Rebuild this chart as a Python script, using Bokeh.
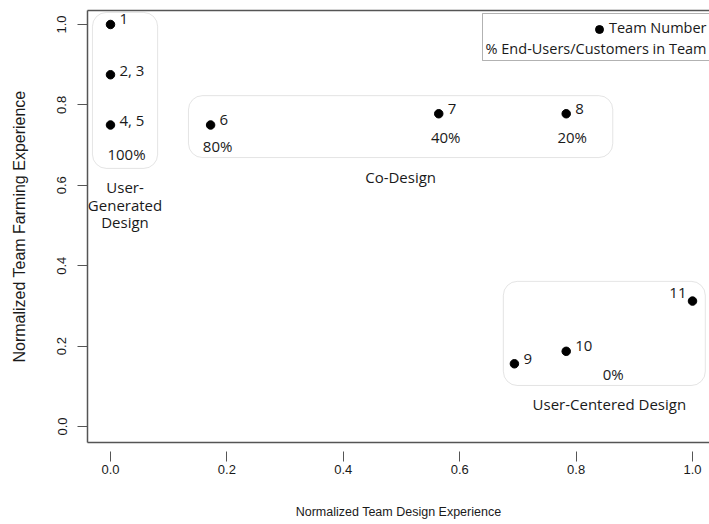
from bokeh.plotting import figure
from bokeh.models import Range1d, FixedTicker, BoxAnnotation, ColumnDataSource, LinearAxis
from bokeh.core.properties import value
from bokeh.embed import file_html
from bokeh.resources import INLINE

# ---------------- data ----------------
team_labels = ["1", "2, 3", "4, 5", "6", "7", "8", "9", "10", "11"]
design_exp = [0.0, 0.0, 0.0, 0.172, 0.564, 0.783, 0.694, 0.783, 1.0]
farming_exp = [1.0, 0.875, 0.75, 0.75, 0.778, 0.778, 0.156, 0.187, 0.312]

group_names = ["User-\nGenerated\nDesign", "Co-Design", "User-Centered Design"]
group_left = [-0.031, 0.134, 0.675]
group_right = [0.081, 0.863, 1.022]
group_bottom = [0.642, 0.669, 0.102]
group_top = [1.030, 0.823, 0.361]

pct_labels = ["100%", "80%", "40%", "20%", "0%"]
pct_team = [2, 3, 4, 5, 7]  # team next to which the share is written

x_ticks = [0.0, 0.2, 0.4, 0.6, 0.8, 1.0]
x_tick_labels = ["0.0", "0.2", "0.4", "0.6", "0.8", "1.0"]
y_ticks = [0.0, 0.2, 0.4, 0.6, 0.8, 1.0]
y_tick_labels = ["0.0", "0.2", "0.4", "0.6", "0.8", "1.0"]

legend_point = "Team Number"
legend_pct = "% End-Users/Customers in Team"

# ---------------- layout / style ----------------
W, H = 709, 524
BL, BR, BT, BB = 87, 0, 10, 82
FW, FH = W - BL - BR, H - BT - BB
X0, X1 = -0.0395, 1.0292
Y0, Y1 = -0.0398, 1.0348

def fx(px):
    return X0 + px * (X1 - X0) / FW

def fy(py):
    return Y1 - py * (Y1 - Y0) / FH

AX = "#555555"
TXT = "#1a1a1a"
ANN_FONT = value("Open Sans")
ANN_SIZE = "15px"

pct_dx = [16, 7, 7, 6, 47]
pct_dy = [29, 21, 23, 23, 23]
group_dx = [0, 0, 5]

p = figure(width=W, height=H, output_backend="svg", toolbar_location=None,
           x_range=Range1d(X0, X1), y_range=Range1d(Y0, Y1),
           min_border_left=BL, min_border_right=BR, min_border_top=BT,
           min_border_bottom=BB)
p.outline_line_color = None
p.grid.visible = False
p.background_fill_color = "white"
p.border_fill_color = "white"

# axes
xa = p.xaxis[0]
xa.ticker = FixedTicker(ticks=x_ticks)
xa.major_label_overrides = {t: l for t, l in zip(x_ticks, x_tick_labels)}
xa.major_tick_in = -9
xa.major_tick_out = 19
xa.major_label_standoff = 3
xa.axis_label = "Normalized Team Design Experience"
xa.axis_label_standoff = 28
xa.axis_label_text_font_size = "12.5px"

ya = p.yaxis[0]
ya.ticker = FixedTicker(ticks=y_ticks)
ya.major_label_overrides = {t: l for t, l in zip(y_ticks, y_tick_labels)}
ya.major_tick_in = 0
ya.major_tick_out = 10
ya.major_label_standoff = 11
ya.major_label_orientation = "vertical"
ya.axis_label = "Normalized Team Farming Experience"
ya.axis_label_standoff = 27
ya.axis_label_text_font_size = "16px"

top = LinearAxis(ticker=FixedTicker(ticks=[]), major_tick_line_color=None,
                 minor_tick_line_color=None, major_label_text_font_size="0px",
                 axis_line_color=AX, axis_line_width=1.5)
p.add_layout(top, "above")

for ax in (xa, ya):
    ax.axis_line_color = AX
    ax.axis_line_width = 1.5
    ax.major_tick_line_color = AX
    ax.major_tick_line_width = 1
    ax.minor_tick_line_color = None
    ax.major_label_text_font = "Liberation Sans"
    ax.major_label_text_font_size = "13px"
    ax.major_label_text_color = TXT
    ax.axis_label_text_font = "Liberation Sans"
    ax.axis_label_text_font_style = "normal"
    ax.axis_label_text_color = TXT

# group boxes
for l, r, b, t in zip(group_left, group_right, group_bottom, group_top):
    p.add_layout(BoxAnnotation(left=l, right=r, bottom=b, top=t,
                               fill_color=None, line_color="#a6a6a6",
                               line_width=1, border_radius=14))

gsrc = ColumnDataSource(dict(
    x=[(l + r) / 2 for l, r in zip(group_left, group_right)],
    y=group_bottom, text=group_names, dx=group_dx))
p.text(x="x", y="y", text="text", source=gsrc, text_font=ANN_FONT,
       text_font_size=ANN_SIZE, text_align="center", text_baseline="top",
       x_offset="dx", y_offset=9, text_line_height=0.87, text_color=TXT)

# points
src = ColumnDataSource(dict(x=design_exp, y=farming_exp, text=team_labels))
p.scatter(x="x", y="y", source=src, size=8.5, color="black")

left_idx = [8]
right_idx = [i for i in range(len(team_labels)) if i not in left_idx]
rsrc = ColumnDataSource(dict(x=[design_exp[i] for i in right_idx],
                             y=[farming_exp[i] for i in right_idx],
                             text=[team_labels[i] for i in right_idx]))
p.text(x="x", y="y", text="text", source=rsrc, text_font=ANN_FONT,
       text_font_size=ANN_SIZE, text_align="left", text_baseline="middle",
       x_offset=9, y_offset=-5, text_color=TXT)
lsrc = ColumnDataSource(dict(x=[design_exp[i] for i in left_idx],
                             y=[farming_exp[i] for i in left_idx],
                             text=[team_labels[i] for i in left_idx]))
p.text(x="x", y="y", text="text", source=lsrc, text_font=ANN_FONT,
       text_font_size=ANN_SIZE, text_align="right", text_baseline="middle",
       x_offset=-6, y_offset=-8, text_color=TXT)

# share labels
psrc = ColumnDataSource(dict(x=[design_exp[i] for i in pct_team],
                             y=[farming_exp[i] for i in pct_team],
                             text=pct_labels, dx=pct_dx, dy=pct_dy))
p.text(x="x", y="y", text="text", source=psrc, text_font=ANN_FONT,
       text_font_size=ANN_SIZE, text_align="center", text_baseline="middle",
       x_offset="dx", y_offset="dy", text_color=TXT)

# legend (top right)
p.add_layout(BoxAnnotation(left=fx(395), right=X1 + 0.1, top=fy(3), bottom=fy(50),
                           fill_color=None, line_color="black", line_width=1))
p.scatter(x=[fx(512)], y=[fy(19)], size=8, color="black")
p.text(x=[fx(619), fx(619)], y=[fy(17), fy(38)], text=[legend_point, legend_pct],
       text_font=ANN_FONT, text_font_size="14.5px", text_align="right",
       text_baseline="middle", text_color=TXT)

open("out.html", "w").write(file_html(p, INLINE))
